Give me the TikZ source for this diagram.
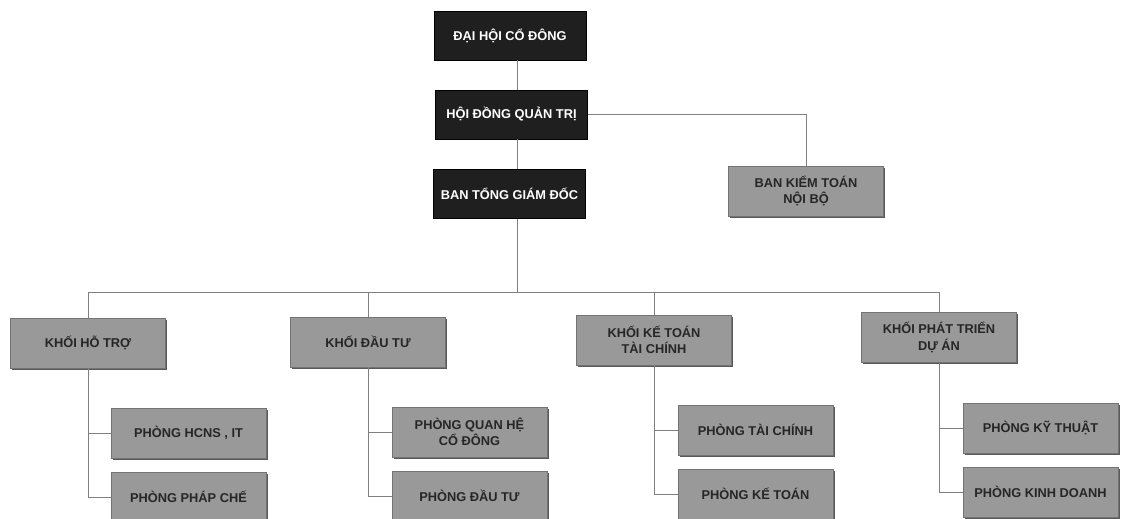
\documentclass[tikz,border=0pt]{standalone}
\usepackage{fontspec}
\setmainfont{Liberation Sans}
\usetikzlibrary{shadows}
\begin{document}
\begin{tikzpicture}[x=1pt,y=-1pt,
  lbl/.style={font=\bfseries\fontsize{12.8}{16.5}\selectfont, align=center, inner sep=0pt},
  topbox/.style={lbl, draw=black, fill=black!88, text=white, minimum width=152pt, minimum height=49pt},
  graybox/.style={lbl, draw=black!55, fill=black!40, text=black!85, minimum width=155pt, minimum height=50pt,
    drop shadow={shadow xshift=1.5pt, shadow yshift=-1.5pt, fill=black!65, opacity=1}},
  conn/.style={draw=black!50, line width=0.7pt}]
\useasboundingbox (0,0) rectangle (1121,519);
% top column
\node[topbox] (dhcd) at (510,35.5) {ĐẠI HỘI CỔ ĐÔNG};
\node[topbox] (hdqt) at (511.5,114.5) {HỘI ĐỒNG QUẢN TRỊ};
\node[topbox] (btgd) at (509.5,194) {BAN TỔNG GIÁM ĐỐC};
\node[graybox] (bktnb) at (806,191) {BAN KIỂM TOÁN\\NỘI BỘ};
% divisions
\node[graybox] (k1) at (88,343) {KHỐI HỖ TRỢ};
\node[graybox] (k2) at (368,342) {KHỐI ĐẦU TƯ};
\node[graybox] (k3) at (654,340) {KHỐI KẾ TOÁN\\TÀI CHÍNH};
\node[graybox] (k4) at (939,337.5) {KHỐI PHÁT TRIỂN\\DỰ ÁN};
% departments
\node[graybox] (p11) at (188.5,433) {PHÒNG HCNS , IT};
\node[graybox] (p12) at (188.5,497) {PHÒNG PHÁP CHẾ};
\node[graybox] (p21) at (469.5,432) {PHÒNG QUAN HỆ\\CỔ ĐÔNG};
\node[graybox] (p22) at (469.5,496) {PHÒNG ĐẦU TƯ};
\node[graybox] (p31) at (755.5,430) {PHÒNG TÀI CHÍNH};
\node[graybox] (p32) at (755.5,494) {PHÒNG KẾ TOÁN};
\node[graybox] (p41) at (1040.5,428) {PHÒNG KỸ THUẬT};
\node[graybox] (p42) at (1040.5,492) {PHÒNG KINH DOANH};
% connectors
\coordinate (ax) at (517,0);
\coordinate (bus) at (517,292);
\draw[conn] (dhcd.south -| ax) -- (hdqt.north -| ax);
\draw[conn] (hdqt.south -| ax) -- (btgd.north -| ax);
\draw[conn] (btgd.south -| ax) -- (bus);
\draw[conn] (hdqt.east) -| (bktnb.north);
\draw[conn] (k1.north) -- (k1.north |- bus) -- (k4.north |- bus) -- (k4.north);
\draw[conn] (k2.north |- bus) -- (k2.north);
\draw[conn] (k3.north |- bus) -- (k3.north);
\draw[conn] (k1.south) |- (p12.west);
\draw[conn] (k1.south |- p11.west) -- (p11.west);
\draw[conn] (k2.south) |- (p22.west);
\draw[conn] (k2.south |- p21.west) -- (p21.west);
\draw[conn] (k3.south) |- (p32.west);
\draw[conn] (k3.south |- p31.west) -- (p31.west);
\draw[conn] (k4.south) |- (p42.west);
\draw[conn] (k4.south |- p41.west) -- (p41.west);
\end{tikzpicture}
\end{document}
